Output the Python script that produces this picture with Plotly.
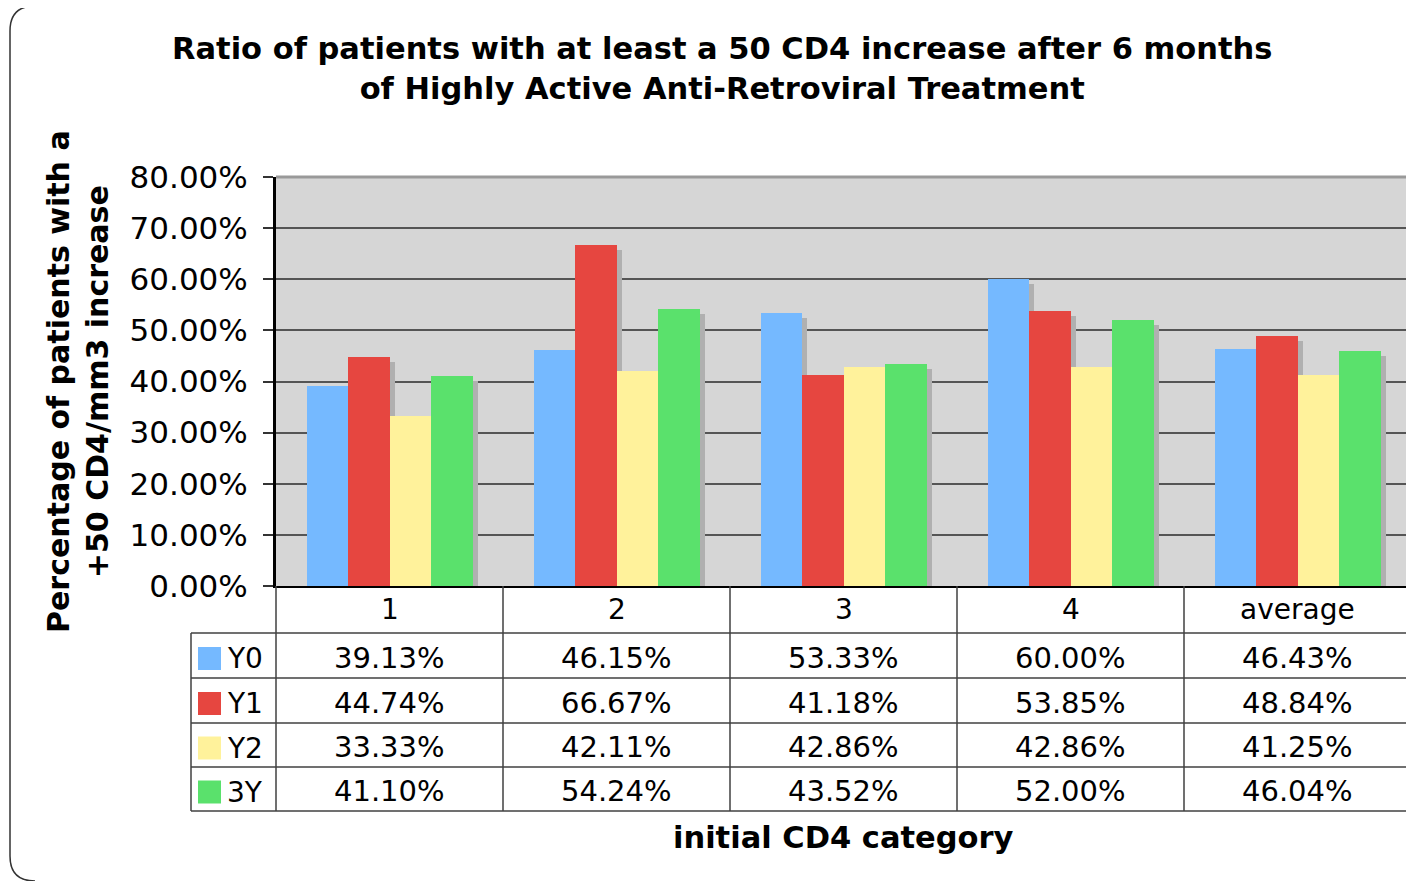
import plotly.graph_objects as go

categories = ["1", "2", "3", "4", "average"]
series_names = ["Y0", "Y1", "Y2", "3Y"]
y0_vals = [39.13, 46.15, 53.33, 60.00, 46.43]
y1_vals = [44.74, 66.67, 41.18, 53.85, 48.84]
y2_vals = [33.33, 42.11, 42.86, 42.86, 41.25]
y3_vals = [41.10, 54.24, 43.52, 52.00, 46.04]
series_values = [y0_vals, y1_vals, y2_vals, y3_vals]
colors = ["#75B9FF", "#E64640", "#FFF29B", "#5AE16C"]
y_ticks = [0, 10, 20, 30, 40, 50, 60, 70, 80]
y_tick_text = [f"{v:.2f}%" for v in y_ticks]

OFF = 8  # page body margin
W, H = 1414 - OFF, 881 - OFF
L, R, T, B = 276 - OFF, 1411 - OFF, 177 - OFF, 586 - OFF
PW, PH = R - L, B - T
YMAX = 80.0
FONT = "DejaVu Sans"

def px(xp):
    return (xp - OFF - L) / PW

def py(yp):
    return (B - (yp - OFF)) / PH

ncat = len(categories)
cat_w_px = PW / ncat
bw = 41.5 / cat_w_px
sdx = 5 / cat_w_px
sdy = 5 / PH * YMAX

fig = go.Figure()

# shadows
for k, vals in enumerate(series_values):
    xs = [i + (k - 1.5) * bw + sdx for i in range(ncat)]
    fig.add_trace(go.Bar(x=xs, y=[v - sdy for v in vals], width=bw,
                         marker=dict(color="#B0B0B0", line=dict(width=0)),
                         showlegend=False, hoverinfo="skip"))
# bars
for k, vals in enumerate(series_values):
    xs = [i + (k - 1.5) * bw for i in range(ncat)]
    fig.add_trace(go.Bar(x=xs, y=vals, width=bw, name=series_names[k],
                         marker=dict(color=colors[k], line=dict(width=0)),
                         showlegend=False))

shapes = []
ann = []
LINEC = "#404040"

# top and right plot border
shapes.append(dict(type="line", xref="paper", yref="paper", x0=1, x1=1, y0=0, y1=1,
                   line=dict(color="#999999", width=3)))
shapes.append(dict(type="line", xref="paper", yref="paper", x0=0, x1=1, y0=1, y1=1,
                   line=dict(color="#999999", width=3)))

# table geometry (page pixels)
row_bounds = [586, 633, 678, 723, 767, 811]
leg_left = 191
col_edges = [276 + cat_w_px * i for i in range(ncat + 1)]
for i, xe in enumerate(col_edges):
    shapes.append(dict(type="line", xref="paper", yref="paper", x0=px(xe), x1=px(xe),
                       y0=py(row_bounds[0]), y1=py(row_bounds[-1]),
                       line=dict(color=LINEC, width=1.5)))
shapes.append(dict(type="line", xref="paper", yref="paper", x0=px(leg_left), x1=px(leg_left),
                   y0=py(row_bounds[1]), y1=py(row_bounds[-1]),
                   line=dict(color=LINEC, width=1.5)))
for yb in row_bounds[1:]:
    shapes.append(dict(type="line", xref="paper", yref="paper", x0=px(leg_left), x1=px(1411),
                       y0=py(yb), y1=py(yb), line=dict(color=LINEC, width=1.5)))

# header
for i, c in enumerate(categories):
    ann.append(dict(x=i, xref="x", y=py((row_bounds[0] + row_bounds[1]) / 2), yref="paper",
                    text=c, showarrow=False, xanchor="center", yanchor="middle",
                    font=dict(family=FONT, size=28, color="#000")))
# rows
for k, vals in enumerate(series_values):
    yc = (row_bounds[k + 1] + row_bounds[k + 2]) / 2 + 2
    for i, v in enumerate(vals):
        ann.append(dict(x=i, xref="x", y=py(yc), yref="paper", text=f"{v:.2f}%",
                        showarrow=False, xanchor="center", yanchor="middle",
                        font=dict(family=FONT, size=29, color="#000")))
    shapes.append(dict(type="rect", xref="paper", yref="paper", x0=px(198), x1=px(221),
                       y0=py(yc - 10.5), y1=py(yc + 12.5), fillcolor=colors[k],
                       line=dict(width=0)))
    ann.append(dict(x=px(225), xref="paper", y=py(yc + 1), yref="paper", text=series_names[k],
                    showarrow=False, xanchor="left", yanchor="middle",
                    font=dict(family=FONT, size=28, color="#000")))

# outer rounded frame
r = 25
path = (f"M {px(1430)},{py(6)} L {px(10 + r)},{py(6)} Q {px(10)},{py(6)} {px(10)},{py(6 + r)} "
        f"L {px(10)},{py(881 - r)} Q {px(10)},{py(881)} {px(10 + r)},{py(881)}")
shapes.append(dict(type="path", xref="paper", yref="paper", path=path,
                   line=dict(color="#333333", width=1.5)))

# titles
ann.append(dict(x=px(722), xref="paper", y=py(69), yref="paper",
                text="<b>Ratio of patients with at least a 50 CD4 increase after 6 months<br>of Highly Active Anti-Retroviral Treatment</b>",
                showarrow=False, xanchor="center", yanchor="middle",
                font=dict(family=FONT, size=30.5, color="#000")))
ann.append(dict(x=px(78), xref="paper", y=py(382), yref="paper",
                text="<b>Percentage of patients with a<br>+50 CD4/mm3 increase</b>",
                textangle=-90, showarrow=False, xanchor="center", yanchor="middle",
                font=dict(family=FONT, size=30, color="#000")))
ann.append(dict(x=px(843), xref="paper", y=py(837), yref="paper",
                text="<b>initial CD4 category</b>", showarrow=False,
                xanchor="center", yanchor="middle",
                font=dict(family=FONT, size=30.5, color="#000")))

fig.update_layout(
    width=W, height=H,
    margin=dict(l=L, r=W - R, t=T, b=H - B, pad=0),
    paper_bgcolor="white", plot_bgcolor="#D6D6D6",
    barmode="overlay", bargap=0,
    showlegend=False,
    shapes=shapes, annotations=ann,
    xaxis=dict(range=[-0.5, ncat - 0.5], showticklabels=False, showgrid=False,
               zeroline=False, showline=True, linecolor="#000", linewidth=2,
               ticks="", fixedrange=True),
    yaxis=dict(range=[0, YMAX], tickvals=y_ticks, ticktext=y_tick_text,
               showgrid=True, gridcolor="#555555", gridwidth=2, zeroline=False,
               showline=True, linecolor="#000", linewidth=3, ticks="outside",
               ticklen=10, tickcolor="#333", tickwidth=2, ticklabelstandoff=9,
               tickfont=dict(family=FONT, size=31, color="#000")),
)

fig.write_html("out.html")
